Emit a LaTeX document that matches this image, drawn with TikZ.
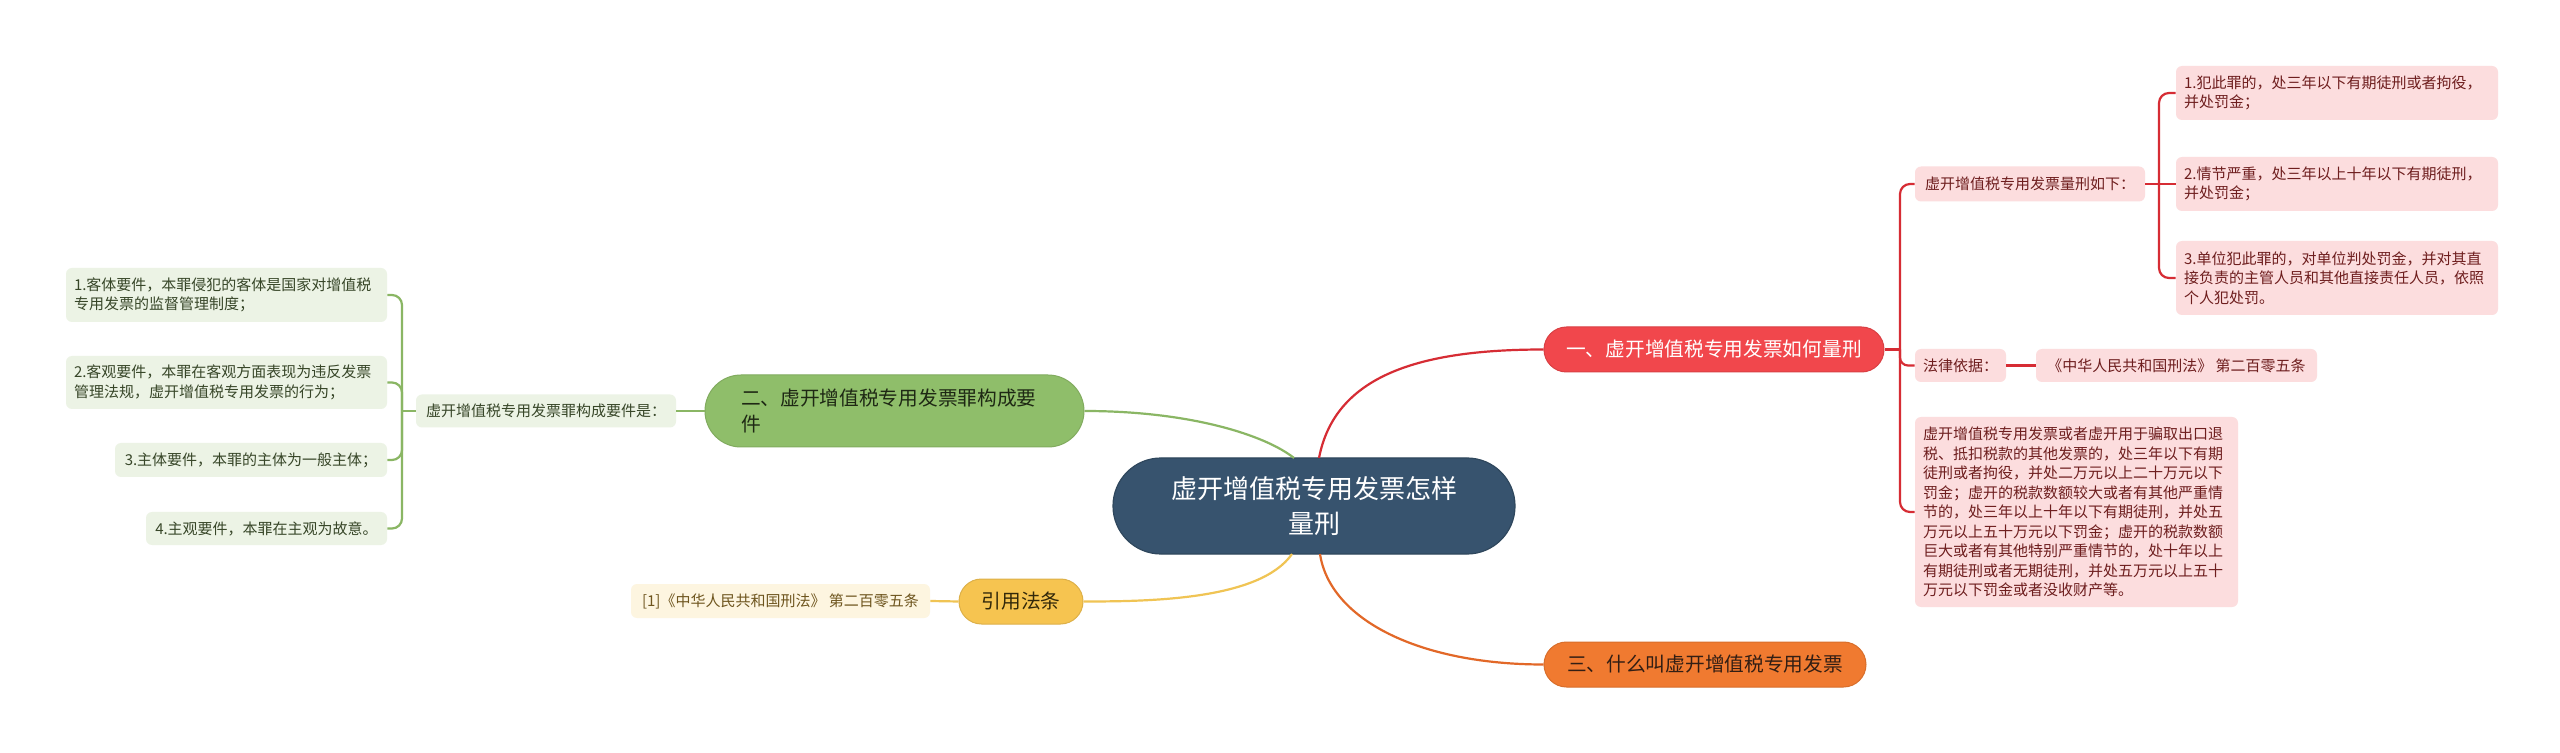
\documentclass[tikz,border=0pt]{standalone}
\usepackage{fontspec}
\setmainfont{Noto Sans CJK SC}
\definecolor{cdark}{RGB}{55,83,110}
\definecolor{cred}{RGB}{241,71,76}
\definecolor{credline}{RGB}{214,44,52}
\definecolor{credlight}{RGB}{252,221,222}
\definecolor{credtext}{RGB}{110,30,30}
\definecolor{cgreen}{RGB}{143,190,106}
\definecolor{cgreenline}{RGB}{138,182,100}
\definecolor{cgreenlight}{RGB}{236,243,229}
\definecolor{cgreentext}{RGB}{55,70,40}
\definecolor{corange}{RGB}{240,122,48}
\definecolor{corangeline}{RGB}{226,104,40}
\definecolor{cyellow}{RGB}{246,196,80}
\definecolor{cyellowline}{RGB}{240,196,84}
\definecolor{cyellowlight}{RGB}{253,245,224}
\definecolor{cyellowtext}{RGB}{110,85,30}
\begin{document}
\begin{tikzpicture}[x=0.5pt,y=-0.5pt,
  every node/.style={inner sep=0pt},
  sfont/.style={font=\fontsize{7.5pt}{9.75pt}\selectfont},
  mfont/.style={font=\fontsize{9.85pt}{13pt}\selectfont},
  leafbox/.style={rectangle, rounded corners=3pt, sfont, inner xsep=4pt, inner ysep=0pt},
  redleaf/.style={leafbox, fill=credlight, text=credtext},
  greenleaf/.style={leafbox, fill=cgreenlight, text=cgreentext},
  yellowleaf/.style={leafbox, fill=cyellowlight, text=cyellowtext},
  mainbox/.style={rectangle, rounded corners=11.25pt, mfont, minimum height=22.5pt},
  redl/.style={draw=credline, line width=1.1pt},
  greenl/.style={draw=cgreenline, line width=1.1pt},
  yellowl/.style={draw=cyellowline, line width=1.1pt},
  orangel/.style={draw=corangeline, line width=1.1pt}
]
\useasboundingbox[fill=white] (0,0) rectangle (2560,753);

% root
\node[rectangle, rounded corners=24pt, fill=cdark, draw=cdark!85!black, line width=0.6pt, text=white,
  font=\fontsize{13pt}{17.5pt}\selectfont, minimum width=201pt, minimum height=48pt, align=center]
  (root) at (1314,506) {虚开增值税专用发票怎样\\量刑};

% main branches
\node[mainbox, fill=cred, draw=cred!90!black, line width=0.5pt, text=white, minimum width=170pt] (rmain) at (1714,349.5) {一、虚开增值税专用发票如何量刑};
\node[mainbox, fill=corange, draw=corange!90!black, line width=0.5pt, text={rgb,255:red,50;green,30;blue,20}, minimum width=161pt] (omain) at (1705,664.5) {三、什么叫虚开增值税专用发票};
\node[rectangle, rounded corners=18pt, mfont, fill=cgreen, draw=cgreen!90!black, line width=0.5pt, text={rgb,255:red,30;green,40;blue,20},
  inner xsep=18pt, text width=153.5pt, minimum height=36pt, align=left] (gmain) at (894.5,411) {二、虚开增值税专用发票罪构成要\\件};
\node[mainbox, fill=cyellow, draw=cyellow!90!black, line width=0.5pt, text={rgb,255:red,50;green,40;blue,10}, minimum width=62pt] (ymain) at (1021,601.5) {引用法条};

% red subtree
\node[redleaf, minimum width=115pt, minimum height=17.5pt] (s1) at (2030,184) {虚开增值税专用发票量刑如下：};
\node[redleaf, text width=153pt, minimum height=27pt, align=left] (r1) at (2337,93) {1.犯此罪的，处三年以下有期徒刑或者拘役，\\并处罚金；};
\node[redleaf, text width=153pt, minimum height=27pt, align=left] (r2) at (2337,184) {2.情节严重，处三年以上十年以下有期徒刑，\\并处罚金；};
\node[redleaf, text width=153pt, minimum height=37pt, align=left] (r3) at (2337,278) {3.单位犯此罪的，对单位判处罚金，并对其直\\接负责的主管人员和其他直接责任人员，依照\\个人犯处罚。};
\node[redleaf, minimum width=45.5pt, minimum height=16.5pt] (law) at (1960.5,365.5) {法律依据：};
\node[redleaf, minimum width=140.5pt, minimum height=16.5pt] (lawref) at (2176.5,365.5) {《中华人民共和国刑法》 第二百零五条};
\node[redleaf, text width=153.5pt, minimum height=95pt, align=left] (rlong) at (2076.5,512) {虚开增值税专用发票或者虚开用于骗取出口退\\税、抵扣税款的其他发票的，处三年以下有期\\徒刑或者拘役，并处二万元以上二十万元以下\\罚金；虚开的税款数额较大或者有其他严重情\\节的，处三年以上十年以下有期徒刑，并处五\\万元以上五十万元以下罚金；虚开的税款数额\\巨大或者有其他特别严重情节的，处十年以上\\有期徒刑或者无期徒刑，并处五万元以上五十\\万元以下罚金或者没收财产等。};

% green subtree
\node[greenleaf, minimum width=130pt, minimum height=16.5pt] (gsub) at (546,411) {虚开增值税专用发票罪构成要件是：};
\node[greenleaf, text width=152.5pt, minimum height=27pt, align=left] (gl1) at (226.5,295) {1.客体要件，本罪侵犯的客体是国家对增值税\\专用发票的监督管理制度；};
\node[greenleaf, text width=152.5pt, minimum height=26.5pt, align=left] (gl2) at (226.5,382.5) {2.客观要件，本罪在客观方面表现为违反发票\\管理法规，虚开增值税专用发票的行为；};
\node[greenleaf, minimum width=136pt, minimum height=17pt] (gl3) at (251,460) {3.主体要件，本罪的主体为一般主体；};
\node[greenleaf, minimum width=120.5pt, minimum height=16.5pt] (gl4) at (266.5,528.5) {4.主观要件，本罪在主观为故意。};

% yellow subtree
\node[yellowleaf, minimum width=149.5pt, minimum height=17pt] (yleaf) at (780.5,601) {[1]《中华人民共和国刑法》 第二百零五条};

% connection points
\coordinate (rootG) at (1294,458);
\coordinate (rootR) at (1319,458);
\coordinate (rootY) at (1292,554);
\coordinate (rootO) at (1320,554);
\coordinate (rj) at (1900,349.5);
\coordinate (sj) at (2159,184);
\coordinate (gj) at (402,411);

% main curves
\draw[greenl] (gmain.east) .. controls (1190,411) and (1265,435) .. (rootG);
\draw[redl] (rootR) .. controls (1335,375) and (1420,349.5) .. (rmain.west);
\draw[yellowl] (rootY) .. controls (1260,600) and (1150,601.5) .. (ymain.east);
\draw[orangel] (rootO) .. controls (1330,620) and (1420,664.5) .. (omain.west);

% red brackets
\draw[redl] (rmain.east) -- (rj);
\draw[redl, rounded corners=5pt] (s1.west) -| (rj) |- (rlong.west);
\draw[redl, rounded corners=4pt] (rj) |- (law.west);
\draw[redl] (law.east) -- (lawref.west);
\draw[redl] (s1.east) -- (r2.west);
\draw[redl, rounded corners=5pt] (r1.west) -| (sj) |- (r3.west);

% green brackets
\draw[greenl] (gmain.west) -- (gsub.east);
\draw[greenl] (gsub.west) -- (gj);
\draw[greenl, rounded corners=5pt] (gl1.east) -| (gj) |- (gl4.east);
\draw[greenl, rounded corners=5pt] (gj) |- (gl2.east);
\draw[greenl, rounded corners=5pt] (gj) |- (gl3.east);

% yellow
\draw[yellowl] (ymain.west) -- (yleaf.east);
\end{tikzpicture}
\end{document}
